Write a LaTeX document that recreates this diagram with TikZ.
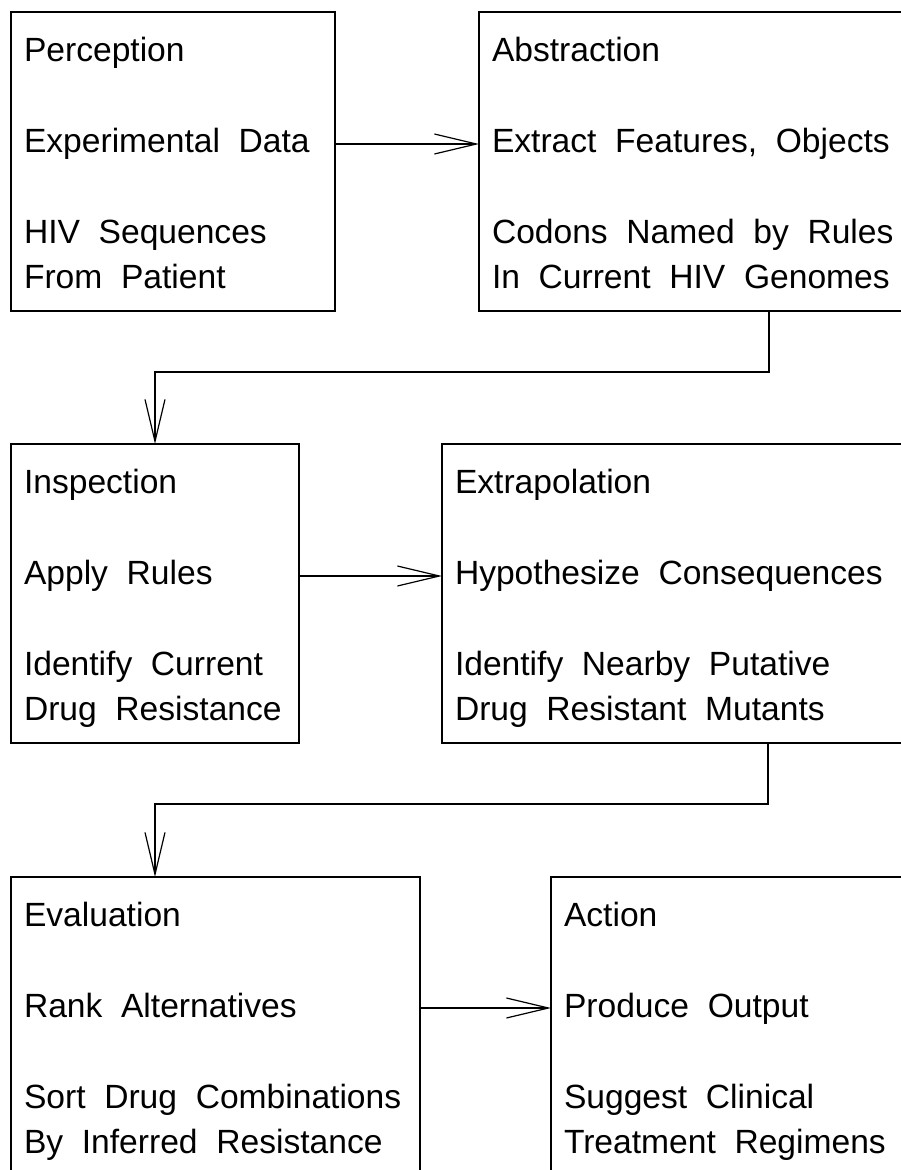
\documentclass[tikz,border=0pt]{standalone}
\usepackage{fontspec}
\setmainfont{Liberation Sans}[WordSpace={2,0,0}]
\usetikzlibrary{arrows.meta}
\tikzset{
  flowbox/.style={draw, line width=1.2pt, anchor=north west, inner sep=0pt, outer sep=0pt},
  txt/.style={anchor=base west, inner sep=0pt, outer sep=0pt, font=\fontsize{33.6}{45.5}\selectfont},
  conn/.style={line width=1.2pt, -{Straight Barb[length=42pt,width=20pt]}},
}
\newcommand\boxlines[5]{%
  \node[txt] (#1-a) at ([shift={(13,49)}]#1.north west) {#2};
  \node[txt] (#1-b) at ([shift={(13,140)}]#1.north west) {#3};
  \node[txt] (#1-c) at ([shift={(13,231)}]#1.north west) {#4};
  \node[txt] (#1-d) at ([shift={(13,276.5)}]#1.north west) {#5};
}
\begin{document}
\begin{tikzpicture}[x=1pt,y=-1pt]
\useasboundingbox (0,0) rectangle (900,1170);
% boxes
\node[flowbox, minimum width=324pt, minimum height=299pt] (b1) at (11,12) {};
\node[flowbox, minimum width=440pt, minimum height=299pt] (b2) at (479,12) {};
\node[flowbox, minimum width=288pt, minimum height=299pt] (b3) at (11,444) {};
\node[flowbox, minimum width=480pt, minimum height=299pt] (b4) at (442,444) {};
\node[flowbox, minimum width=409pt, minimum height=330pt] (b5) at (11,877) {};
\node[flowbox, minimum width=400pt, minimum height=330pt] (b6) at (551,877) {};
% texts
\boxlines{b1}{Perception}{Experimental Data}{HIV Sequences}{From Patient}
\boxlines{b2}{Abstraction}{Extract Features, Objects}{Codons Named by Rules}{In Current HIV Genomes}
\boxlines{b3}{Inspection}{Apply Rules}{Identify Current}{Drug Resistance}
\boxlines{b4}{Extrapolation}{Hypothesize Consequences}{Identify Nearby Putative}{Drug Resistant Mutants}
\boxlines{b5}{Evaluation}{Rank Alternatives}{Sort Drug Combinations}{By Inferred Resistance}
\boxlines{b6}{Action}{Produce Output}{Suggest Clinical}{Treatment Regimens}
% horizontal arrows
\coordinate (h1) at ([shift={(0,132)}]b1.north east);
\draw[conn] (h1) -- (b2.west |- h1);
\coordinate (h2) at ([shift={(0,132)}]b3.north east);
\draw[conn] (h2) -- (b4.west |- h2);
\coordinate (h3) at ([shift={(0,131)}]b5.north east);
\draw[conn] (h3) -- (b6.west |- h3);
% down connectors
\coordinate (d1) at (769,0);
\coordinate (e1) at (155,372);
\draw[conn] (b2.south -| d1) |- (e1) -- (b3.north -| e1);
\coordinate (d2) at (768,0);
\coordinate (e2) at (155,804);
\draw[conn] (b4.south -| d2) |- (e2) -- (b5.north -| e2);
\end{tikzpicture}
\end{document}
